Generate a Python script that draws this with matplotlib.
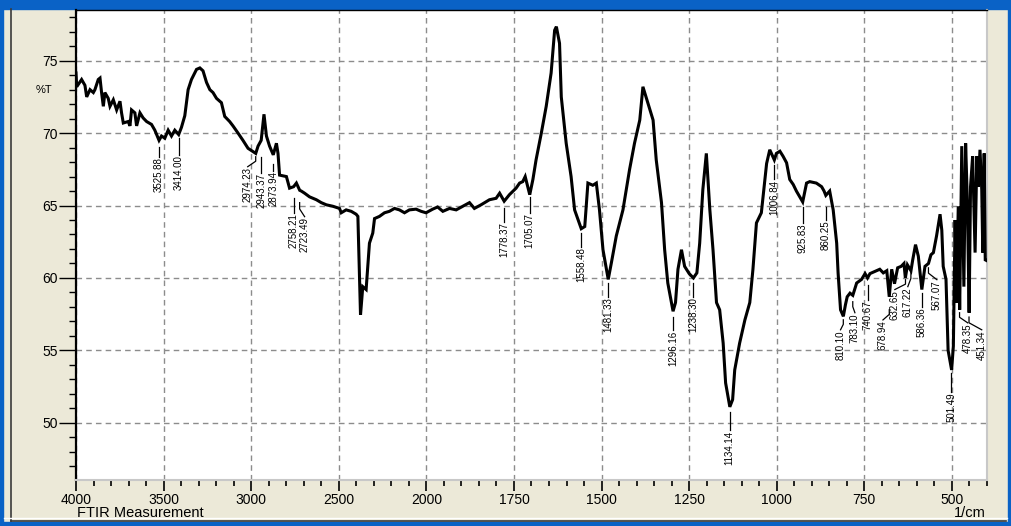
import matplotlib
matplotlib.use("Agg")
import matplotlib.pyplot as plt
import numpy as np
from matplotlib.patches import Rectangle
from matplotlib.lines import Line2D
from matplotlib.ticker import FixedLocator, FixedFormatter

plt.rcParams["font.family"] = ["Liberation Sans", "DejaVu Sans"]

# FTIR spectrum, wavenumber (1/cm) vs transmittance (%T)
wavenumber = [
    4000, 3996, 3968, 3949, 3939, 3920, 3901, 3892, 3873, 3863, 3854, 3844, 3835, 3816,
    3806, 3787, 3768, 3749, 3740, 3730, 3702, 3692, 3683, 3664, 3654, 3635, 3617, 3597,
    3569, 3550, 3526, 3512, 3493, 3474, 3455, 3436, 3414, 3398, 3379, 3360, 3341, 3312,
    3293, 3275, 3255, 3236, 3218, 3198, 3170, 3151, 3123, 3104, 3075, 3047, 3018, 2999,
    2974, 2961, 2943, 2927, 2913, 2895, 2874, 2856, 2847, 2838, 2799, 2781, 2758, 2742,
    2723, 2714, 2695, 2667, 2628, 2600, 2571, 2534, 2496, 2486, 2458, 2429, 2401, 2391,
    2382, 2376, 2363, 2344, 2325, 2306, 2296, 2268, 2239, 2211, 2182, 2154, 2125, 2097,
    2059, 2030, 2002, 1982, 1968, 1953, 1934, 1915, 1896, 1877, 1863, 1844, 1820, 1801,
    1791, 1778, 1763, 1744, 1734, 1725, 1718, 1705, 1696, 1687, 1672, 1658, 1644, 1634,
    1629, 1620, 1615, 1601, 1587, 1577, 1558, 1548, 1539, 1525, 1515, 1506, 1496, 1481,
    1472, 1458, 1439, 1420, 1406, 1391, 1382, 1368, 1353, 1344, 1329, 1320, 1311, 1296,
    1289, 1282, 1272, 1263, 1250, 1238, 1228, 1220, 1211, 1201, 1191, 1182, 1172, 1163,
    1153, 1146, 1134, 1126, 1120, 1106, 1091, 1077, 1068, 1058, 1044, 1029, 1020, 1007,
    1001, 991, 982, 972, 963, 953, 944, 926, 915, 906, 887, 872, 865, 860, 849, 839, 829,
    825, 818, 810, 804, 799, 791, 783, 772, 758, 748, 741, 734, 720, 706, 696, 686, 679,
    672, 664, 655, 645, 637, 633, 627, 617, 612, 604, 596, 586, 577, 567, 560, 553, 544,
    534, 529, 525, 517, 511, 501, 496, 491, 487, 482, 478, 472, 466, 461, 456, 451, 447,
    441, 434, 429, 425, 420, 415, 412, 408, 405, 401,
]
transmittance = [
    74.15, 73.2, 73.7, 73.3, 72.5, 73.0, 72.8, 73.0, 73.7, 73.8, 72.8, 71.85, 72.8, 72.4,
    71.85, 72.3, 71.6, 72.2, 71.4, 70.7, 70.8, 70.5, 71.6, 71.4, 70.5, 71.4, 71.05, 70.8,
    70.6, 70.2, 69.5, 69.8, 69.65, 70.2, 69.8, 70.2, 69.9, 70.4, 71.2, 73.0, 73.7, 74.4,
    74.5, 74.3, 73.5, 73.0, 72.8, 72.4, 72.1, 71.15, 70.8, 70.5, 70.0, 69.5, 68.95, 68.8,
    68.6, 69.1, 69.5, 71.3, 69.8, 69.1, 68.5, 69.3, 68.6, 67.1, 67.0, 66.2, 66.3, 66.55,
    66.05, 66.0, 65.85, 65.6, 65.4, 65.2, 65.05, 64.95, 64.8, 64.5, 64.7, 64.6, 64.4, 64.25,
    60.1, 57.45, 59.4, 59.2, 62.4, 63.1, 64.1, 64.25, 64.5, 64.6, 64.8, 64.7, 64.5, 64.7,
    64.75, 64.6, 64.5, 64.75, 64.9, 64.6, 64.8, 64.7, 64.95, 65.2, 64.8, 65.05, 65.4, 65.5,
    65.85, 65.3, 65.75, 66.2, 66.55, 66.65, 67.0, 65.75, 66.8, 68.15, 70.0, 71.85, 74.15, 77.1,
    77.35, 76.2, 72.5, 69.3, 67.0, 64.7, 63.4, 63.55, 66.55, 66.4, 66.55, 64.7, 61.95, 59.9,
    61.05, 62.9, 64.7, 67.5, 69.3, 70.9, 73.2, 72.1, 70.9, 68.15, 65.2, 61.95, 59.65, 57.7,
    58.3, 60.6, 61.95, 60.8, 60.3, 60.0, 60.35, 62.4, 66.1, 68.6, 64.7, 61.95, 58.3, 57.8,
    55.5, 52.75, 51.1, 51.6, 53.65, 55.5, 57.1, 58.3, 60.6, 63.8, 64.5, 67.9, 68.85, 68.15,
    68.6, 68.75, 68.4, 67.95, 66.8, 66.45, 66.0, 65.25, 66.55, 66.65, 66.55, 66.3, 66.0, 65.7,
    66.0, 64.7, 62.4, 60.35, 57.8, 57.35, 58.15, 58.7, 58.95, 58.8, 59.65, 59.9, 60.3, 60.0,
    60.3, 60.45, 60.6, 60.35, 60.5, 58.7, 60.6, 59.6, 60.7, 60.8, 61.0, 60.0, 60.9, 60.5,
    61.25, 62.3, 61.5, 59.2, 60.8, 61.0, 61.6, 61.75, 62.9, 64.4, 63.3, 60.8, 59.9, 55.0,
    53.65, 55.3, 64.0, 58.3, 64.95, 57.8, 69.1, 59.4, 69.3, 65.2, 57.6, 66.3, 68.4, 61.75,
    68.4, 66.3, 68.85, 66.1, 61.75, 68.6, 61.25, 61.2,
]

# peak picks
peak_labels = [
    "3525.88", "3414.00", "2974.23", "2943.37", "2873.94", "2758.21", "2723.49",
    "1778.37", "1705.07", "1558.48", "1481.33", "1296.16", "1238.30", "1134.14",
    "1006.84", "925.83", "860.25", "810.10", "783.10", "740.67", "678.94", "632.65",
    "617.22", "586.36", "567.07", "501.49", "478.35", "451.34",
]
# label placement: (leader top %T, text top %T, text x in 1/cm)
label_layout = [
    (69.06, 68.37, 3525.88), (69.68, 68.5, 3414.0), (68.37, 67.68, 3020),
    (68.37, 67.27, 2943.37), (67.9, 67.4, 2873.94), (65.54, 64.5, 2758.21),
    (65.2, 64.23, 2695), (64.85, 63.88, 1778.37), (65.6, 64.5, 1705.07),
    (63.12, 62.15, 1558.48), (59.67, 58.7, 1481.33), (57.32, 56.42, 1296.16),
    (59.67, 58.7, 1238.30), (50.76, 49.52, 1134.14), (67.8, 66.8, 1006.84),
    (64.92, 63.81, 925.83), (64.92, 64.02, 860.25), (57.11, 56.42, 818),
    (58.36, 57.6, 777), (59.53, 58.5, 740.67), (57.8, 57.1, 697),
    (59.88, 59.2, 663), (60.43, 59.4, 626), (58.98, 58.0, 586.36),
    (60.7, 59.88, 543), (53.45, 52.14, 501.49), (57.6, 56.9, 455),
    (57.3, 56.42, 415),
]

x_major = [4000, 3500, 3000, 2500, 2000, 1750, 1500, 1250, 1000, 750, 500]
y_major = [50, 55, 60, 65, 70, 75]


# split abscissa: 500/div above 2000, 250/div below
def fwd(w):
    w = np.asarray(w, dtype=float)
    return np.where(w >= 2000, w / 500.0, w / 250.0 - 4.0)


def inv(u):
    u = np.asarray(u, dtype=float)
    return np.where(u >= 4, u * 500.0, (u + 4.0) * 250.0)


W, H = 1012, 526
fig = plt.figure(figsize=(W / 100, H / 100), dpi=100, facecolor="#ECE9D8")


def fx(px):
    return px / W


def fy(py):
    return 1 - py / H


# window frame
blue = "#0A62C6"
fig.add_artist(Rectangle((0, fy(9)), 1, 9 / H, transform=fig.transFigure, color=blue, zorder=0))
fig.add_artist(Rectangle((0, 0), 1, 4 / H, transform=fig.transFigure, color=blue, zorder=0))
fig.add_artist(Rectangle((0, 0), 3 / W, 1, transform=fig.transFigure, color=blue, zorder=0))
fig.add_artist(Rectangle((fx(1008), 0), 4 / W, 1, transform=fig.transFigure, color=blue, zorder=0))
fig.add_artist(Line2D([fx(11), fx(11)], [fy(9), fy(521)], transform=fig.transFigure,
                      color="#3a3a3a", lw=1.2))
fig.add_artist(Line2D([fx(11), fx(1006)], [fy(520.5), fy(520.5)], transform=fig.transFigure,
                      color="#3a3a3a", lw=1.2))
fig.add_artist(Line2D([fx(4), fx(1007)], [fy(518), fy(518)], transform=fig.transFigure,
                      color="#ffffff", lw=1))

ax = fig.add_axes([fx(76), fy(480), fx(987) - fx(76), (480 - 10) / H])
ax.set_facecolor("white")
ax.set_xscale("function", functions=(fwd, inv))
ax.set_xlim(4000, 400)
ax.set_ylim(46.05, 78.5)

ax.plot(wavenumber, transmittance, color="black", lw=2.2, solid_joinstyle="miter", zorder=3)

for text, (top, ttop, tx) in zip(peak_labels, label_layout):
    w = float(text)
    mid = top - (top - ttop) * 0.45
    ax.plot([w, w, tx], [top, mid, ttop], color="black", lw=0.9, zorder=3)
    ax.text(tx, ttop - 0.05, text, rotation=90, ha="center", va="top", fontsize=7,
            color="black", zorder=3)

# axes, ticks and grid
x_minor = [v for v in range(3900, 2000, -100) if v not in x_major]
x_minor += [v for v in range(1950, 399, -50) if v not in x_major]
ax.xaxis.set_major_locator(FixedLocator(x_major))
ax.xaxis.set_major_formatter(FixedFormatter([str(v) for v in x_major]))
ax.xaxis.set_minor_locator(FixedLocator(x_minor))
ax.yaxis.set_major_locator(FixedLocator(y_major))
ax.yaxis.set_minor_locator(FixedLocator([v for v in range(47, 79) if v not in y_major]))

ax.tick_params(axis="x", which="major", direction="out", length=8, width=1.2, pad=1, labelsize=10)
ax.tick_params(axis="x", which="minor", direction="out", length=4, width=1.2)
ax.tick_params(axis="y", which="major", direction="out", length=12, width=1, pad=1, labelsize=10)
ax.tick_params(axis="y", which="minor", direction="out", length=5, width=1)

ax.grid(True, which="major", color="#8c8c8c", linestyle=(0, (4, 3)), lw=1)

ax.spines["left"].set_color("black")
ax.spines["left"].set_linewidth(1.6)
ax.spines["top"].set_color("black")
ax.spines["top"].set_linewidth(1.0)
for side in ("bottom", "right"):
    ax.spines[side].set_color("#c8c8c8")
    ax.spines[side].set_linewidth(1.5)

ax.text(-0.035, 73.0, "%T", transform=ax.get_yaxis_transform(), ha="center", va="center",
        fontsize=8)
fig.text(fx(77), fy(517), "FTIR Measurement", ha="left", va="baseline", fontsize=10.5)
fig.text(fx(986), fy(517), "1/cm", ha="right", va="baseline", fontsize=10.5)

fig.savefig("out.png", dpi=100, facecolor=fig.get_facecolor())
